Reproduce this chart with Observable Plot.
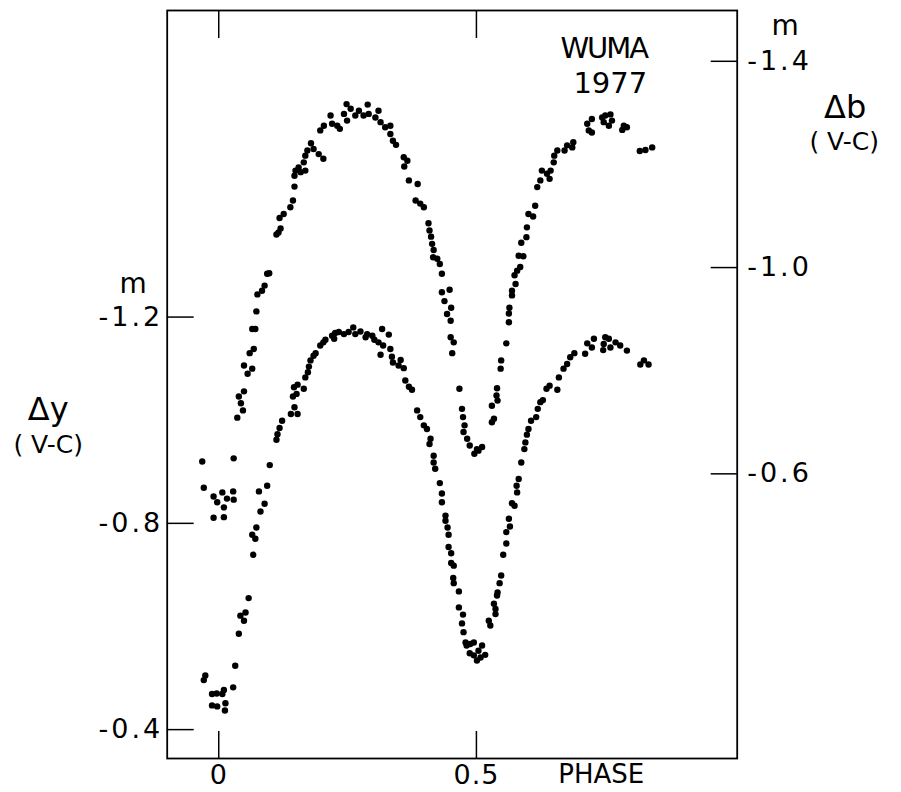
<!DOCTYPE html>
<html>
<head>
<meta charset="utf-8">
<script src="https://cdn.jsdelivr.net/npm/d3@7"></script>
<script src="https://cdn.jsdelivr.net/npm/@observablehq/plot@0.6"></script>
<style>
html, body { margin: 0; padding: 0; background: #fff; }
#chart svg { display: block; }
</style>
</head>
<body>
<div id="chart"></div>
<script>
// ---- Data ----
// Upper light curve: Δb (V-C), right-hand axis
const phaseB = [
  -0.032,-0.029,-0.010,-0.003,0.007,0.010,0.016,0.028,0.029,0.029,-0.010,0.010,
  0.036,0.039,0.043,0.047,0.049,0.049,0.056,0.060,0.065,0.065,0.068,0.071,0.073,0.075,0.084,0.089,0.094,0.098,
  0.112,0.116,0.120,0.118,0.126,0.139,0.144,0.147,0.147,0.149,0.155,0.159,0.168,0.165,0.168,0.172,0.179,0.184,
  0.194,0.203,0.197,0.204,0.217,0.220,0.230,0.235,0.243,0.248,0.249,0.256,0.265,0.272,0.281,0.289,0.291,0.304,
  0.310,0.314,0.323,0.333,0.333,0.338,0.344,0.359,0.366,0.360,0.369,
  0.386,0.382,0.391,0.398,0.407,0.409,0.412,0.414,0.417,0.416,0.424,0.429,0.433,0.433,0.448,0.438,0.451,0.443,
  0.450,0.450,0.456,0.453,0.467,0.472,0.474,0.477,0.475,0.482,0.487,0.496,0.501,0.504,0.511,
  0.530,0.534,0.530,0.541,0.539,0.540,0.547,0.548,0.558,0.563,0.563,0.564,0.569,0.569,0.576,0.574,0.579,0.585,
  0.582,0.591,0.587,0.597,0.598,0.601,0.610,0.614,0.618,0.624,0.627,0.637,0.642,0.644,0.650,0.651,0.657,0.671,
  0.676,0.688,0.686,0.715,0.718,0.724,0.724,0.744,0.750,0.760,0.757,0.747,0.763,0.786,0.783,0.792,0.817,0.828,0.841
];
const deltaB = [
  -0.624,-0.573,-0.556,-0.545,-0.564,-0.535,-0.552,-0.566,-0.550,-0.630,-0.515,-0.516,
  -0.709,-0.750,-0.737,-0.723,-0.760,-0.810,-0.794,-0.834,-0.804,-0.881,-0.842,-0.881,-0.915,-0.948,-0.955,-0.965,-0.988,-0.989,
  -1.064,-1.068,-1.076,-1.096,-1.104,-1.117,-1.130,-1.157,-1.178,-1.188,-1.194,-1.185,-1.188,-1.204,-1.217,-1.227,-1.241,-1.230,
  -1.220,-1.211,-1.266,-1.275,-1.295,-1.279,-1.275,-1.269,-1.298,-1.317,-1.285,-1.308,-1.295,-1.304,-1.295,-1.316,-1.298,-1.291,
  -1.304,-1.282,-1.272,-1.275,-1.259,-1.246,-1.238,-1.214,-1.207,-1.196,-1.169,
  -1.162,-1.130,-1.124,-1.117,-1.086,-1.072,-1.060,-1.046,-1.034,-1.020,-1.017,-1.007,-0.988,-0.952,-0.957,-0.935,-0.922,-0.910,
  -0.897,-0.865,-0.855,-0.834,-0.765,-0.726,-0.710,-0.694,-0.681,-0.668,-0.655,-0.639,-0.648,-0.645,-0.652,
  -0.700,-0.707,-0.732,-0.742,-0.752,-0.766,-0.804,-0.820,-0.853,-0.894,-0.911,-0.922,-0.946,-0.955,-0.968,-0.985,-0.994,-1.001,
  -1.023,-1.022,-1.048,-1.059,-1.078,-1.104,-1.099,-1.120,-1.156,-1.169,-1.188,-1.182,-1.172,-1.188,-1.204,-1.217,-1.227,-1.227,
  -1.237,-1.243,-1.233,-1.279,-1.266,-1.288,-1.262,-1.291,-1.295,-1.297,-1.275,-1.282,-1.285,-1.275,-1.267,-1.272,-1.226,-1.228,-1.233
];
// Lower light curve: Δy (V-C), left-hand axis
const phaseY = [
  -0.026,-0.029,-0.013,-0.004,0.007,0.010,0.028,-0.013,-0.003,0.013,0.012,0.032,
  0.039,0.042,0.049,0.052,0.058,0.067,0.065,0.071,0.073,0.081,0.089,0.078,0.094,0.099,0.112,0.114,0.118,0.123,
  0.140,0.153,0.147,0.144,0.151,0.146,0.165,0.153,0.168,0.173,0.175,0.178,0.184,0.188,0.197,0.203,0.207,0.220,
  0.226,0.224,0.233,0.243,0.252,0.261,0.265,0.275,0.285,0.288,0.298,0.302,0.310,0.317,0.319,0.330,0.333,0.314,
  0.336,0.338,0.353,0.349,0.359,0.362,0.369,
  0.375,0.385,0.391,0.398,0.404,0.411,0.409,0.417,0.417,0.420,0.429,0.433,0.433,0.440,0.440,0.444,0.446,0.446,
  0.451,0.451,0.456,0.455,0.456,0.466,0.466,0.474,0.472,0.475,0.479,0.481,0.488,0.495,0.487,0.495,0.501,0.508,
  0.511,0.517,0.504,
  0.524,0.527,0.534,0.537,0.537,0.540,0.541,0.545,0.548,0.552,0.558,0.558,0.565,0.563,0.574,0.569,0.579,0.578,
  0.582,0.587,0.593,0.595,0.598,0.601,0.606,0.616,0.619,0.624,0.629,0.636,0.642,0.657,0.660,0.669,0.676,0.682,
  0.690,0.711,0.715,0.724,0.728,0.746,0.747,0.750,0.757,0.760,0.770,0.779,0.792,0.818,0.825,0.834
];
const deltaY = [
  -0.505,-0.496,-0.469,-0.470,-0.469,-0.477,-0.482,-0.447,-0.445,-0.451,-0.437,-0.524,
  -0.586,-0.621,-0.611,-0.627,-0.655,-0.739,-0.778,-0.770,-0.792,-0.823,-0.838,-0.862,-0.873,-0.913,-0.962,-0.973,-0.985,-0.999,
  -1.012,-1.012,-1.025,-1.046,-1.051,-1.064,-1.061,-1.069,-1.083,-1.093,-1.104,-1.116,-1.125,-1.130,-1.145,-1.151,-1.156,-1.164,
  -1.169,-1.158,-1.171,-1.167,-1.171,-1.180,-1.167,-1.172,-1.161,-1.167,-1.164,-1.156,-1.151,-1.177,-1.145,-1.166,-1.138,-1.127,
  -1.123,-1.112,-1.117,-1.106,-1.101,-1.077,-1.065,
  -1.059,-1.019,-1.006,-0.990,-0.983,-0.964,-0.954,-0.931,-0.918,-0.906,-0.878,-0.858,-0.841,-0.815,-0.805,-0.792,-0.778,-0.754,
  -0.742,-0.723,-0.718,-0.694,-0.684,-0.668,-0.637,-0.623,-0.606,-0.589,-0.569,-0.563,-0.566,-0.569,-0.548,-0.544,-0.534,-0.540,
  -0.563,-0.545,-0.553,
  -0.611,-0.602,-0.644,-0.634,-0.624,-0.660,-0.666,-0.684,-0.699,-0.739,-0.761,-0.783,-0.794,-0.809,-0.834,-0.839,-0.860,-0.873,
  -0.886,-0.918,-0.944,-0.957,-0.972,-0.983,-0.999,-1.006,-1.022,-1.035,-1.039,-1.061,-1.067,-1.059,-1.083,-1.100,-1.109,-1.122,
  -1.130,-1.129,-1.149,-1.141,-1.158,-1.136,-1.148,-1.161,-1.158,-1.141,-1.151,-1.145,-1.135,-1.108,-1.116,-1.108
];
// Tick values and labels
const xTicks = [0, 0.5];
const xTickLabels = ["0", "0.5"];
const yTicks = [-1.2, -0.8, -0.4];
const yTickLabels = ["-1.2", "-0.8", "-0.4"];
const bTicks = [-1.4, -1.0, -0.6];
const bTickLabels = ["-1.4", "-1.0", "-0.6"];

// ---- Chart ----
const bShift = -0.296; // aligns the Δb axis with the Δy axis (shared y scale)
const upper = phaseB.map((p, i) => ({phase: p, mag: deltaB[i]}));
const lower = phaseY.map((p, i) => ({phase: p, mag: deltaY[i]}));
const lookup = (vals, labels) => d => {
  const i = vals.findIndex(v => Math.abs(v - d) < 1e-6);
  return i >= 0 ? labels[i] : "";
};
const bTicksShifted = bTicks.map(v => v + bShift);
const FONT = "'DejaVu Sans', sans-serif";

const chart = Plot.plot({
  width: 901,
  height: 792,
  marginLeft: 166.7,
  marginRight: 164.3,
  marginTop: 10,
  marginBottom: 34,
  style: {fontFamily: FONT, background: "white", color: "black", overflow: "visible"},
  x: {domain: [-0.1, 1.006]},
  y: {domain: [-0.344, -1.7945]},
  marks: [
    Plot.frame({stroke: "black", strokeWidth: 1.8}),
    // inward ticks
    Plot.axisY({ticks: yTicks, anchor: "left", label: null, tickSize: 27, dx: 27, tickFormat: () => "", strokeWidth: 1.5}),
    Plot.axisY({ticks: bTicksShifted, anchor: "right", label: null, tickSize: 27, dx: -27, tickFormat: () => "", strokeWidth: 1.5}),
    Plot.axisX({ticks: xTicks, anchor: "bottom", label: null, tickSize: 27, dy: -27, tickFormat: () => "", strokeWidth: 1.5}),
    Plot.axisX({ticks: xTicks, anchor: "top", label: null, tickSize: 27, dy: 27, tickFormat: () => "", strokeWidth: 1.5}),
    // tick labels
    Plot.axisY({ticks: yTicks, anchor: "left", label: null, tickSize: 0, tickPadding: 4, fontSize: 27,
      tickFormat: lookup(yTicks, yTickLabels)}),
    Plot.axisY({ticks: bTicksShifted, anchor: "right", label: null, tickSize: 0, tickPadding: 10, fontSize: 27,
      tickFormat: lookup(bTicksShifted, bTickLabels)}),
    Plot.axisX({ticks: xTicks, anchor: "bottom", label: null, tickSize: 0, tickPadding: 6, fontSize: 27,
      tickFormat: lookup(xTicks, xTickLabels)}),
    // data
    Plot.dot(upper, {x: "phase", y: d => d.mag + bShift, r: 3.2, fill: "black", stroke: "none"}),
    Plot.dot(lower, {x: "phase", y: "mag", r: 3.2, fill: "black", stroke: "none"}),
    // annotations
    Plot.text([yTicks[0]], {y: d => d, frameAnchor: "left", dx: -34, dy: -33, textAnchor: "middle", lineAnchor: "middle", text: () => "m", fontSize: 28}),
    Plot.text([bTicksShifted[0]], {y: d => d, frameAnchor: "right", dx: 48, dy: -35, textAnchor: "middle", lineAnchor: "middle", text: () => "m", fontSize: 28}),
    Plot.text(["Δy"], {frameAnchor: "left", dx: -119, dy: 25, textAnchor: "middle", lineAnchor: "middle", fontSize: 32}),
    Plot.text(["( V-C)"], {frameAnchor: "left", dx: -119, dy: 60, textAnchor: "middle", lineAnchor: "middle", fontSize: 25}),
    Plot.text(["Δb"], {frameAnchor: "top-right", dx: 108, dy: 97, textAnchor: "middle", lineAnchor: "middle", fontSize: 32}),
    Plot.text(["( V-C)"], {frameAnchor: "top-right", dx: 107, dy: 131, textAnchor: "middle", lineAnchor: "middle", fontSize: 25}),
    Plot.text(["WUMA\n1977"], {frameAnchor: "top-right", dx: -90, dy: 54, textAnchor: "end", lineAnchor: "middle",
      fontSize: 29, lineHeight: 1.18}),
    Plot.text(["PHASE"], {frameAnchor: "bottom-left", dx: 391, dy: 6, lineAnchor: "top", textAnchor: "start", fontSize: 26})
  ]
});
// letter spacing for the tick labels and the condensed "WUMA" line
d3.select(chart).selectAll("g[aria-label='y-axis tick label'] text").style("letter-spacing", "3px");
d3.select(chart).selectAll("g[aria-label='x-axis tick label'] text").style("letter-spacing", "1px");
d3.select(chart).selectAll("tspan").filter(function() { return this.textContent === "WUMA"; })
  .style("letter-spacing", "-2px");
document.getElementById("chart").appendChild(chart);
</script>
</body>
</html>
